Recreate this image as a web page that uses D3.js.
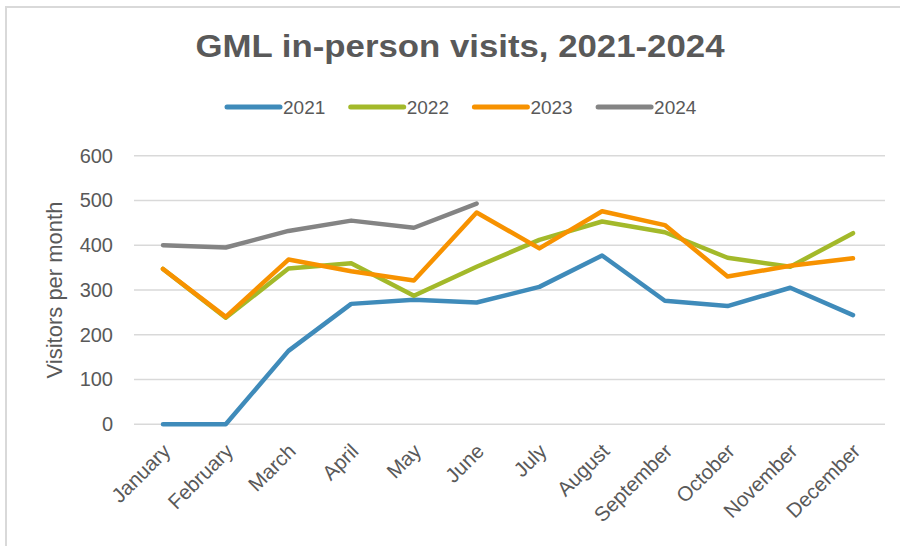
<!DOCTYPE html>
<html lang="en">
<head>
<meta charset="UTF-8">
<title>GML in-person visits, 2021-2024</title>
<script src="https://d3js.org/d3.v7.min.js"></script>
<style>
  body { margin: 0; background: #fff; }
  text { font-family: "Liberation Sans", Arial, sans-serif; fill: #595959; }
</style>
</head>
<body>
<div id="chart"></div>
<script>
// data
const months = ["January", "February", "March", "April", "May", "June",
  "July", "August", "September", "October", "November", "December"];
const years = ["2021", "2022", "2023", "2024"];
const v2021 = [0, 0, 164, 269, 278, 272, 307, 377, 276, 264, 305, 244];
const v2022 = [347, 238, 348, 360, 287, 352, 412, 453, 429, 372, 352, 427];
const v2023 = [347, 240, 368, 342, 321, 473, 393, 476, 445, 330, 354, 371];
const v2024 = [400, 395, 432, 455, 439, 493];
const yTicks = [0, 100, 200, 300, 400, 500, 600];
const colors = ["#3f8bba", "#a3b92a", "#f79200", "#848484"];

const W = 900, H = 546;

const svg = d3.select("#chart").append("svg")
  .attr("width", W).attr("height", H);

// chart area border (runs off right and bottom edges)
svg.append("rect")
  .attr("x", 6).attr("y", 7)
  .attr("width", W + 10).attr("height", H + 10)
  .attr("fill", "#fff")
  .attr("stroke", "#d9d9d9").attr("stroke-width", 2);

const x = d3.scalePoint().domain(months).range([163, 853]);
const y = d3.scaleLinear().domain([0, 600]).range([424.3, 155.7]);

// gridlines
svg.append("g").selectAll("line")
  .data(yTicks)
  .join("line")
    .attr("x1", 134).attr("x2", 885)
    .attr("y1", d => y(d)).attr("y2", d => y(d))
    .attr("stroke", "#d9d9d9").attr("stroke-width", 1.5);

// y axis labels
const yAxis = svg.append("g")
  .attr("transform", "translate(113,0)")
  .call(d3.axisLeft(y).tickValues(yTicks).tickSize(0).tickPadding(0));
yAxis.select(".domain").remove();
yAxis.selectAll("text")
  .attr("font-size", 20)
  .attr("fill", "#595959")
  .style("font-family", "'Liberation Sans', Arial, sans-serif");

// x axis labels, rotated
const xAxis = svg.append("g")
  .attr("transform", "translate(0,424.3)")
  .call(d3.axisBottom(x).tickSize(0).tickPadding(0));
xAxis.select(".domain").remove();
xAxis.selectAll("text")
  .attr("font-size", 20.5)
  .attr("fill", "#595959")
  .style("font-family", "'Liberation Sans', Arial, sans-serif")
  .attr("text-anchor", "end")
  .attr("y", 0).attr("dy", "0.7em")
  .attr("transform", "translate(-2,18) rotate(-45)");

// axis title
svg.append("text")
  .attr("transform", "translate(62,290) rotate(-90)")
  .attr("text-anchor", "middle")
  .attr("font-size", 22)
  .text("Visitors per month");

// title
svg.append("text")
  .attr("x", 460).attr("y", 57)
  .attr("text-anchor", "middle")
  .attr("font-size", 31)
  .attr("font-weight", "bold")
  .attr("textLength", 529)
  .attr("lengthAdjust", "spacingAndGlyphs")
  .text("GML in-person visits, 2021-2024");

// lines
const series = [v2021, v2022, v2023, v2024];
const line = d3.line()
  .x((d, i) => x(months[i]))
  .y(d => y(d));

svg.append("g").selectAll("path")
  .data(series)
  .join("path")
    .attr("fill", "none")
    .attr("stroke", (d, i) => colors[i])
    .attr("stroke-width", 4.5)
    .attr("stroke-linejoin", "round")
    .attr("stroke-linecap", "round")
    .attr("d", d => line(d));

// legend
const legend = svg.append("g").selectAll("g")
  .data(years)
  .join("g")
    .attr("transform", (d, i) => `translate(${227 + i * 123.7},107)`);
legend.append("line")
  .attr("x1", 0).attr("x2", 53)
  .attr("stroke", (d, i) => colors[i])
  .attr("stroke-width", 5)
  .attr("stroke-linecap", "round");
legend.append("text")
  .attr("x", 56).attr("y", 6.5)
  .attr("font-size", 19)
  .text(d => d);
</script>
</body>
</html>
